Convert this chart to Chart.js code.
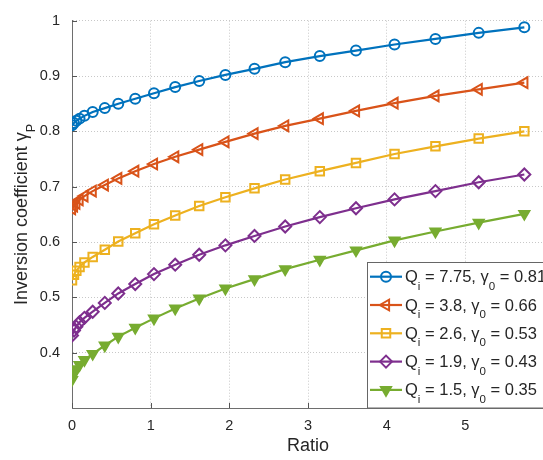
<!DOCTYPE html>
<html>
<head>
<meta charset="utf-8">
<script src="https://cdn.jsdelivr.net/npm/chart.js@4.4.1/dist/chart.umd.min.js"></script>
<style>
    html, body { margin: 0; padding: 0; background: #fff; overflow: hidden; }
    #wrap { position: relative; width: 553px; height: 460px; }
</style>
</head>
<body>
<div id="wrap"><canvas id="gammaChart"></canvas></div>
<script>
// 그림에서 읽은 값
const ratio = [0, 0.025, 0.055, 0.096, 0.158, 0.263, 0.417, 0.588, 0.804, 1.042, 1.312, 1.617,
               1.95, 2.32, 2.71, 3.15, 3.61, 4.10, 4.62, 5.17, 5.75];

const gammaQ775 = [0.811, 0.815, 0.819, 0.823, 0.828, 0.835, 0.842, 0.850, 0.859, 0.869, 0.880, 0.891,
                   0.902, 0.913, 0.925, 0.936, 0.946, 0.957, 0.967, 0.978, 0.988];
const gammaQ38  = [0.660, 0.665, 0.670, 0.676, 0.683, 0.692, 0.703, 0.715, 0.728, 0.741, 0.754, 0.767,
                   0.781, 0.796, 0.810, 0.823, 0.837, 0.851, 0.864, 0.876, 0.888];
const gammaQ26  = [0.531, 0.541, 0.548, 0.555, 0.563, 0.573, 0.586, 0.601, 0.616, 0.632, 0.648, 0.665,
                   0.681, 0.697, 0.713, 0.728, 0.743, 0.759, 0.773, 0.787, 0.800];
const gammaQ19  = [0.431, 0.440, 0.447, 0.455, 0.463, 0.474, 0.490, 0.507, 0.524, 0.542, 0.559, 0.577,
                   0.594, 0.611, 0.628, 0.645, 0.661, 0.677, 0.692, 0.708, 0.722];
const gammaQ15  = [0.351, 0.362, 0.370, 0.378, 0.387, 0.398, 0.413, 0.429, 0.445, 0.462, 0.480, 0.498,
                   0.516, 0.533, 0.551, 0.568, 0.585, 0.603, 0.619, 0.635, 0.651];

// 범례 값
const qiValues = ['7.75', '3.8', '2.6', '1.9', '1.5'];
const gamma0Values = ['0.81', '0.66', '0.53', '0.43', '0.35'];

// 눈금 라벨
const xTickLabels = [0, 1, 2, 3, 4, 5];
const yTickLabels = [0.4, 0.5, 0.6, 0.7, 0.8, 0.9, 1];

const FONT = "'Liberation Sans', Arial, sans-serif";
const TEXT = '#262626';

const seriesStyle = [
    { data: gammaQ775, color: '#0072BD', style: 'circle',   rot: 0,   radius: 5,   fill: false },
    { data: gammaQ38,  color: '#D95319', style: 'triangle', rot: -90, radius: 6.2, fill: false },
    { data: gammaQ26,  color: '#EDB120', style: 'rect',     rot: 0,   radius: 6,   fill: false },
    { data: gammaQ19,  color: '#7E2F8E', style: 'rectRot',  rot: 0,   radius: 6,   fill: false },
    { data: gammaQ15,  color: '#77AC30', style: 'triangle', rot: 180, radius: 5.8, fill: true }
];

const datasets = seriesStyle.map((s, i) => ({
    label: 'Q' + qiValues[i],
    data: ratio.map((r, k) => ({ x: r, y: s.data[k] })),
    borderColor: s.color,
    borderWidth: 2.2,
    pointStyle: s.style,
    pointRotation: s.rot,
    pointRadius: s.radius,
    pointBorderWidth: 2,
    pointBorderColor: s.color,
    pointBackgroundColor: s.fill ? s.color : 'rgba(0,0,0,0)',
    tension: 0
}));

// 아래첨자 포함 텍스트
function drawRich(ctx, segs, x, y, size) {
    let cx = x;
    segs.forEach(seg => {
        const fs = seg.sub ? size * 0.7 : size;
        ctx.font = fs + 'px ' + FONT;
        ctx.fillText(seg.t, cx, y + (seg.sub ? size * 0.45 : 0));
        cx += ctx.measureText(seg.t).width;
    });
    return cx - x;
}

function richWidth(ctx, segs, size) {
    let w = 0;
    segs.forEach(seg => {
        ctx.font = (seg.sub ? size * 0.7 : size) + 'px ' + FONT;
        w += ctx.measureText(seg.t).width;
    });
    return w;
}

const matlabLook = {
    id: 'matlabLook',
    beforeDatasetsDraw(chart) {
        // 안쪽 눈금
        const { ctx, chartArea: a, scales: { x, y } } = chart;
        ctx.save();
        ctx.strokeStyle = '#555';
        ctx.lineWidth = 1;
        ctx.beginPath();
        xTickLabels.forEach(v => {
            const px = Math.round(x.getPixelForValue(v)) + 0.5;
            ctx.moveTo(px, a.bottom);
            ctx.lineTo(px, a.bottom - 5);
        });
        yTickLabels.forEach(v => {
            const py = Math.round(y.getPixelForValue(v)) + 0.5;
            ctx.moveTo(a.left, py);
            ctx.lineTo(a.left + 5, py);
        });
        ctx.stroke();
        ctx.restore();
    },
    afterDraw(chart) {
        const { ctx, chartArea: a } = chart;
        ctx.save();
        ctx.fillStyle = TEXT;
        ctx.textBaseline = 'alphabetic';

        // x축 제목
        ctx.font = '18px ' + FONT;
        ctx.textAlign = 'center';
        ctx.fillText('Ratio', (a.left + a.right) / 2, 450.5);

        // y축 제목
        ctx.textAlign = 'left';
        const ySegs = [{ t: 'Inversion coefficient γ' }, { t: 'P', sub: true }];
        const yw = richWidth(ctx, ySegs, 18);
        ctx.save();
        ctx.translate(26.5, (a.top + a.bottom) / 2);
        ctx.rotate(-Math.PI / 2);
        drawRich(ctx, ySegs, -yw / 2, 0, 18);
        ctx.restore();

        // 범례
        const lx = 367.5, ly = 262.5, lw = 182, lh = a.bottom - ly;
        ctx.fillStyle = '#fff';
        ctx.fillRect(lx, ly, lw, lh);
        ctx.strokeStyle = '#666';
        ctx.lineWidth = 1;
        ctx.strokeRect(lx, ly, lw, lh);

        seriesStyle.forEach((s, i) => {
            const rowY = ly + 14.2 + i * 28.3;
            ctx.strokeStyle = s.color;
            ctx.lineWidth = 2.2;
            ctx.beginPath();
            ctx.moveTo(370, rowY);
            ctx.lineTo(402, rowY);
            ctx.stroke();
            ctx.fillStyle = s.fill ? s.color : 'rgba(0,0,0,0)';
            ctx.lineWidth = 2;
            Chart.helpers.drawPoint(ctx, {
                pointStyle: s.style, rotation: s.rot, radius: s.radius, borderWidth: 2
            }, 386, rowY);

            ctx.fillStyle = TEXT;
            drawRich(ctx, [
                { t: 'Q' }, { t: 'i', sub: true },
                { t: ' = ' + qiValues[i] + ', γ' }, { t: '0', sub: true },
                { t: ' = ' + gamma0Values[i] }
            ], 405, rowY + 5.5, 16.5);
        });
        ctx.restore();
    }
};

new Chart(document.getElementById('gammaChart'), {
    type: 'line',
    data: { datasets: datasets },
    options: {
        responsive: true,
        maintainAspectRatio: false,
        animation: false,
        layout: { padding: { top: 10, right: 0, left: 0, bottom: 0 } },
        plugins: {
            legend: { display: false },
            tooltip: { enabled: false }
        },
        scales: {
            x: {
                type: 'linear',
                min: 0,
                max: 6,
                afterFit: function(scale) { scale.height = 52; },
                ticks: {
                    stepSize: 1,
                    padding: 9,
                    color: TEXT,
                    font: { family: FONT, size: 14.5 },
                    callback: v => xTickLabels.includes(v) ? String(v) : ''
                },
                grid: { color: '#c8c8c8', drawTicks: false, lineWidth: 1 },
                border: { display: true, color: '#6e6e6e', width: 1, dash: [1, 2] }
            },
            y: {
                min: 0.3,
                max: 1,
                afterFit: function(scale) { scale.width = 72; },
                ticks: {
                    stepSize: 0.1,
                    padding: 12,
                    color: TEXT,
                    font: { family: FONT, size: 14.5 },
                    callback: function(v) {
                        const r = Math.round(v * 10) / 10;
                        return yTickLabels.includes(r) ? String(r) : '';
                    }
                },
                grid: { color: '#c8c8c8', drawTicks: false, lineWidth: 1 },
                border: { display: true, color: '#6e6e6e', width: 1, dash: [1, 2] }
            }
        }
    },
    plugins: [matlabLook]
});
</script>
</body>
</html>
